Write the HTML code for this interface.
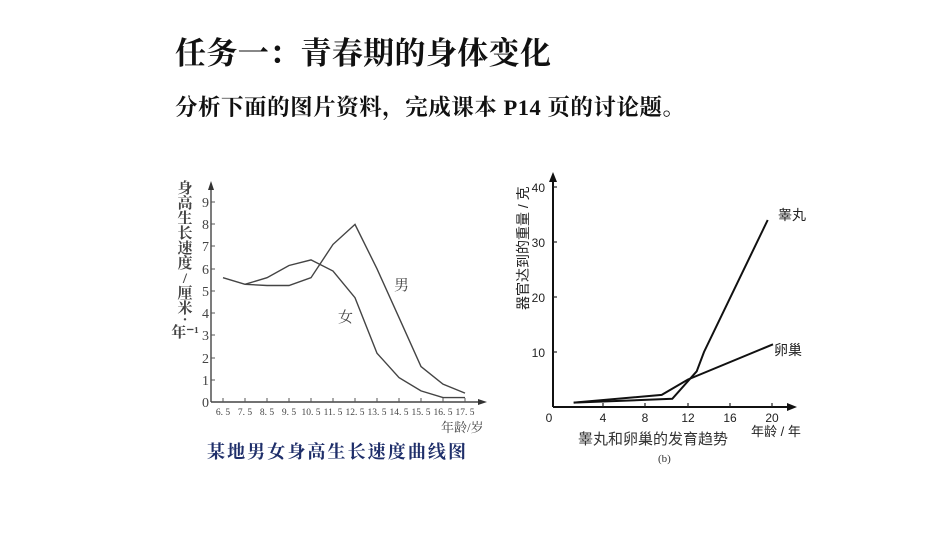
<!DOCTYPE html>
<html><head><meta charset="utf-8"><style>
body{margin:0;background:#fff;}
svg text{font-family:"Liberation Serif","Noto Serif CJK SC","Noto Sans CJK SC",serif;}
</style></head><body>
<svg width="950" height="535" viewBox="0 0 950 535" xmlns="http://www.w3.org/2000/svg">
<rect width="950" height="535" fill="#fff"/>
<text x="175" y="64" font-size="31" font-weight="bold" fill="#111" textLength="376" lengthAdjust="spacing">任务一：青春期的身体变化</text>
<text x="175" y="115" font-size="22.5" font-weight="bold" fill="#111" textLength="510" lengthAdjust="spacing">分析下面的图片资料，完成课本 P14 页的讨论题。</text>

<!-- left chart -->
<g stroke="#444" fill="none" stroke-width="1.4">
<line x1="211" y1="402" x2="211" y2="185"/>
<line x1="211" y1="402" x2="482" y2="402"/>
<polyline points="223,277.7 245,284.3 267,285.5 289,285.5 311,277.7 333,244.4 355,224.4 377,268.8 399,317.6 421,366.5 443,384.2 465,393.1"/>
<polyline points="245,284.3 267,277.7 289,265.5 311,259.9 333,271 355,297.7 377,353.2 399,377.6 421,390.9 443,397.6 465,397.6"/>
</g>
<polygon points="211,181 208,190 214,190" fill="#333"/>
<polygon points="487,402 478,399 478,405" fill="#333"/>
<g stroke="#555" stroke-width="1">
<line x1="211" y1="202" x2="215" y2="202"/><line x1="211" y1="224" x2="215" y2="224"/><line x1="211" y1="246" x2="215" y2="246"/><line x1="211" y1="269" x2="215" y2="269"/><line x1="211" y1="291" x2="215" y2="291"/><line x1="211" y1="313" x2="215" y2="313"/><line x1="211" y1="335" x2="215" y2="335"/><line x1="211" y1="358" x2="215" y2="358"/><line x1="211" y1="380" x2="215" y2="380"/>
<line x1="223" y1="402" x2="223" y2="398"/><line x1="245" y1="402" x2="245" y2="398"/><line x1="267" y1="402" x2="267" y2="398"/><line x1="289" y1="402" x2="289" y2="398"/><line x1="311" y1="402" x2="311" y2="398"/><line x1="333" y1="402" x2="333" y2="398"/><line x1="355" y1="402" x2="355" y2="398"/><line x1="377" y1="402" x2="377" y2="398"/><line x1="399" y1="402" x2="399" y2="398"/><line x1="421" y1="402" x2="421" y2="398"/><line x1="443" y1="402" x2="443" y2="398"/><line x1="465" y1="402" x2="465" y2="398"/>
</g>
<g font-size="14" fill="#444" text-anchor="end">
<text x="209" y="407">0</text><text x="209" y="385">1</text><text x="209" y="363">2</text><text x="209" y="340">3</text><text x="209" y="318">4</text><text x="209" y="296">5</text><text x="209" y="274">6</text><text x="209" y="251">7</text><text x="209" y="229">8</text><text x="209" y="207">9</text>
</g>
<g font-size="9.5" fill="#444" text-anchor="middle">
<text x="223" y="415">6. 5</text><text x="245" y="415">7. 5</text><text x="267" y="415">8. 5</text><text x="289" y="415">9. 5</text><text x="311" y="415">10. 5</text><text x="333" y="415">11. 5</text><text x="355" y="415">12. 5</text><text x="377" y="415">13. 5</text><text x="399" y="415">14. 5</text><text x="421" y="415">15. 5</text><text x="443" y="415">16. 5</text><text x="465" y="415">17. 5</text>
</g>
<text x="441" y="432" font-size="13" fill="#444">年龄/岁</text>
<g font-size="15" fill="#444" text-anchor="middle" font-weight="bold">
<text x="185" y="193">身</text><text x="185" y="208">高</text><text x="185" y="223">生</text><text x="185" y="238">长</text><text x="185" y="253">速</text><text x="185" y="268">度</text><text x="185" y="283">/</text><text x="185" y="298">厘</text><text x="185" y="313">米</text><text x="185" y="324">·</text><text x="185" y="337">年⁻¹</text>
</g>
<text x="394" y="290" font-size="15" fill="#444">男</text>
<text x="338" y="322" font-size="15" fill="#444">女</text>
<text x="207" y="458" font-size="18" font-weight="bold" fill="#1f2f6a" textLength="259" lengthAdjust="spacing">某地男女身高生长速度曲线图</text>

<!-- right chart -->
<g stroke="#111" fill="none" stroke-width="2">
<line x1="553" y1="407" x2="553" y2="178"/>
<line x1="553" y1="407" x2="790" y2="407"/>
<polyline points="573.7,402.6 672.3,398.8 696.7,371.3 704,352 767.7,220"/>
<polyline points="573.7,402.6 661.7,394.9 688,379.5 773,344.3"/>
</g>
<polygon points="553,172 549,182 557,182" fill="#111"/>
<polygon points="797,407 787,403 787,411" fill="#111"/>
<g stroke="#222" stroke-width="1.2">
<line x1="553" y1="352" x2="557" y2="352"/><line x1="553" y1="297" x2="557" y2="297"/><line x1="553" y1="242" x2="557" y2="242"/><line x1="553" y1="187" x2="557" y2="187"/>
<line x1="603" y1="407" x2="603" y2="403"/><line x1="645" y1="407" x2="645" y2="403"/><line x1="688" y1="407" x2="688" y2="403"/><line x1="730" y1="407" x2="730" y2="403"/><line x1="772" y1="407" x2="772" y2="403"/>
</g>
<g font-size="12" fill="#222" text-anchor="end">
<text x="545" y="357" style="font-family:'Liberation Sans',sans-serif">10</text><text x="545" y="302" style="font-family:'Liberation Sans',sans-serif">20</text><text x="545" y="247" style="font-family:'Liberation Sans',sans-serif">30</text><text x="545" y="192" style="font-family:'Liberation Sans',sans-serif">40</text>
</g>
<g font-size="12" fill="#222" text-anchor="middle">
<text x="549" y="422" style="font-family:'Liberation Sans',sans-serif">0</text><text x="603" y="422" style="font-family:'Liberation Sans',sans-serif">4</text><text x="645" y="422" style="font-family:'Liberation Sans',sans-serif">8</text><text x="688" y="422" style="font-family:'Liberation Sans',sans-serif">12</text><text x="730" y="422" style="font-family:'Liberation Sans',sans-serif">16</text><text x="772" y="422" style="font-family:'Liberation Sans',sans-serif">20</text>
</g>
<text transform="translate(528,310) rotate(-90)" font-size="14" fill="#222" style="font-family:'Liberation Sans','Noto Sans CJK SC',sans-serif">器官达到的重量 / 克</text>
<text x="778" y="220" font-size="14" fill="#222" style="font-family:'Liberation Sans','Noto Sans CJK SC',sans-serif">睾丸</text>
<text x="774" y="355" font-size="14" fill="#222" style="font-family:'Liberation Sans','Noto Sans CJK SC',sans-serif">卵巢</text>
<text x="751" y="436" font-size="13" fill="#222" style="font-family:'Liberation Sans','Noto Sans CJK SC',sans-serif">年龄 / 年</text>
<text x="578" y="444" font-size="15" fill="#333" style="font-family:'Liberation Sans','Noto Sans CJK SC',sans-serif">睾丸和卵巢的发育趋势</text>
<text x="658" y="462" font-size="11" fill="#333">(b)</text>
</svg>
</body></html>
